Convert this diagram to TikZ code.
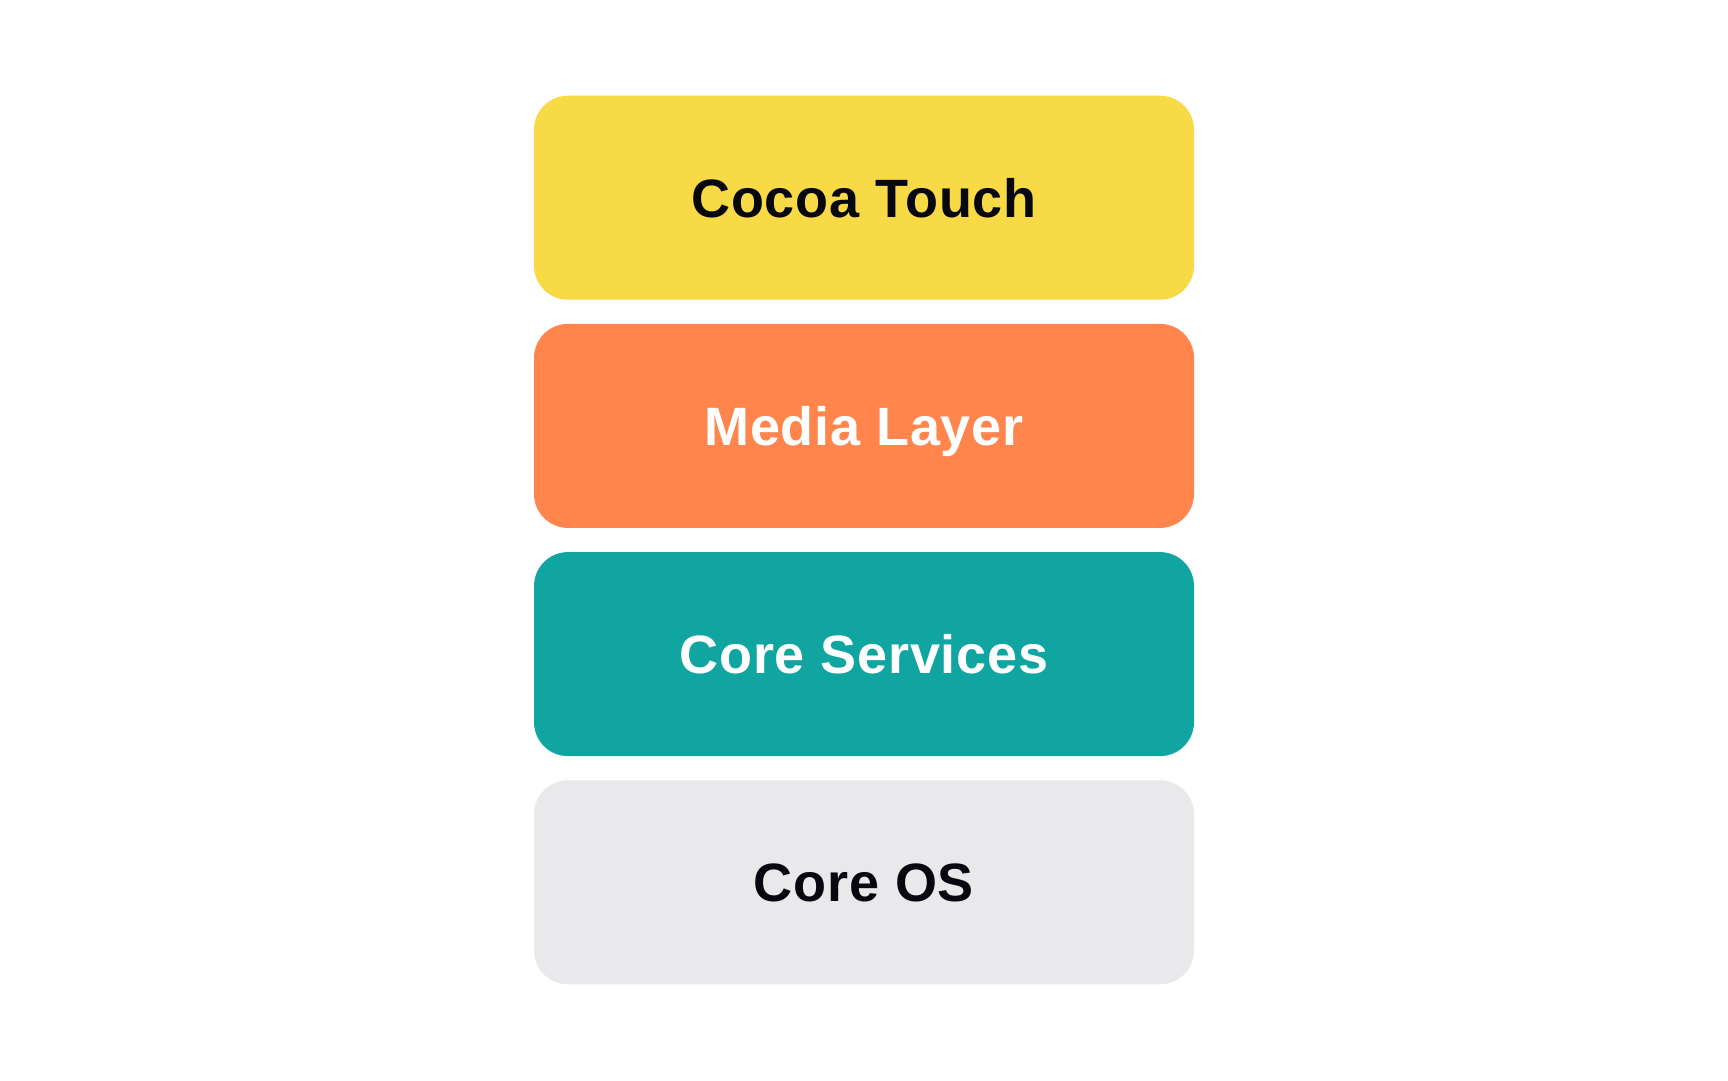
\documentclass[tikz,border=0pt]{standalone}
\usepackage{fontspec}
\setmainfont{Liberation Sans}
\newfontfamily\layerfont[LetterSpace=1.5]{Liberation Sans}
\definecolor{cyellow}{HTML}{F8DA46}
\definecolor{corange}{HTML}{FF854D}
\definecolor{cteal}{HTML}{10A5A0}
\definecolor{cgray}{HTML}{E9E9EB}
\definecolor{cink}{HTML}{06070F}
\begin{document}
\begin{tikzpicture}[x=1bp,y=1bp,
  layer/.style={draw=none, rounded corners=34bp, minimum width=660bp, minimum height=204bp,
    inner sep=0pt, text height=39bp, text depth=0pt,
    font=\layerfont\fontsize{54bp}{60bp}\selectfont\bfseries}]
\useasboundingbox (0,0) rectangle (1728,-1080);
\fill[white] (0,0) rectangle (1728,-1080);
\node[layer, fill=cyellow, text=cink] (cocoa) at (864,-197.7) {Cocoa Touch};
\node[layer, fill=corange, text=white] (media) at (864,-425.9) {Media Layer};
\node[layer, fill=cteal, text=white] (services) at (864,-654.1) {Core Services};
\node[layer, fill=cgray, text=cink] (coreos) at (864,-882.3) {Core OS};
\end{tikzpicture}
\end{document}
